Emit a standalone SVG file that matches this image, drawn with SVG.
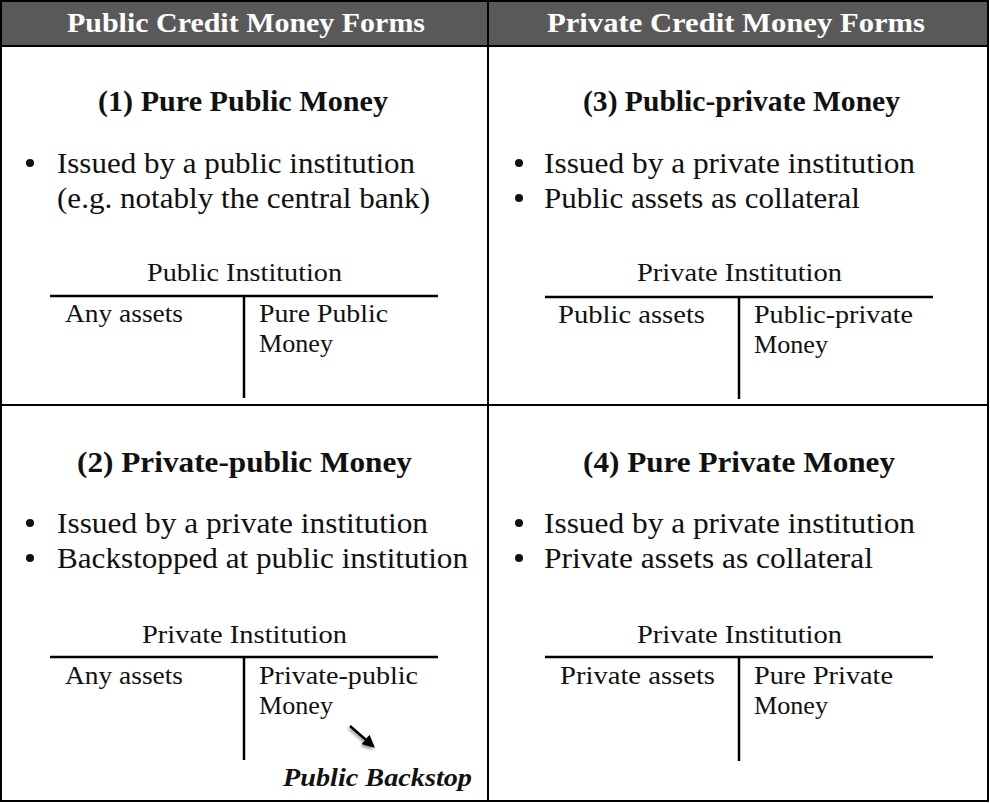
<svg xmlns="http://www.w3.org/2000/svg" width="990" height="803" viewBox="0 0 990 803">
<style>
  text { font-family: "Liberation Serif", "Times New Roman", serif; fill: #111; }
  .hdr { font-weight: bold; font-size: 28px; fill: #ffffff; }
  .ttl { font-weight: bold; font-size: 29px; }
  .bul { font-size: 29px; }
  .acc { font-size: 26px; }
  .bs { font-weight: bold; font-style: italic; font-size: 26px; }
  .grid { stroke: #000; stroke-width: 2; fill: none; }
  .tacc { stroke: #000; stroke-width: 2.5; fill: none; }
  .dot { fill: #111; }
</style>
<defs>
  <marker id="ah" viewBox="0 0 10 10" refX="8" refY="5" markerWidth="5" markerHeight="5" orient="auto" markerUnits="strokeWidth">
    <path d="M0,0 L10,5 L0,10 z" fill="#000"/>
  </marker>
  <filter id="sh" x="-50%" y="-50%" width="200%" height="200%">
    <feDropShadow dx="-1" dy="2" stdDeviation="1.5" flood-color="#000" flood-opacity="0.45"/>
  </filter>
</defs>
<rect x="0" y="0" width="990" height="803" fill="#ffffff"/>

<g id="table-frame">
  <rect x="1" y="1" width="987" height="45" fill="#595959"/>
  <rect class="grid" x="1" y="1" width="987" height="800"/>
  <line class="grid" x1="1" y1="46" x2="988" y2="46"/>
  <line class="grid" x1="1" y1="405" x2="988" y2="405"/>
  <line class="grid" x1="488" y1="1" x2="488" y2="801"/>
</g>

<g id="header-public">
  <text class="hdr" x="67" y="32" textLength="358" lengthAdjust="spacingAndGlyphs">Public Credit Money Forms</text>
</g>
<g id="header-private">
  <text class="hdr" x="547" y="32" textLength="378" lengthAdjust="spacingAndGlyphs">Private Credit Money Forms</text>
</g>

<g id="cell-1">
  <text class="ttl" x="98" y="111" textLength="290" lengthAdjust="spacingAndGlyphs">(1) Pure Public Money</text>
  <circle class="dot" cx="30" cy="163" r="4"/>
  <text class="bul" x="57" y="173" textLength="358" lengthAdjust="spacingAndGlyphs">Issued by a public institution</text>
  <text class="bul" x="57" y="208" textLength="373" lengthAdjust="spacingAndGlyphs">(e.g. notably the central bank)</text>
  <text class="acc" x="147" y="281" textLength="195" lengthAdjust="spacingAndGlyphs">Public Institution</text>
  <line class="tacc" x1="50" y1="296" x2="438" y2="296"/>
  <line class="tacc" x1="244" y1="296" x2="244" y2="398"/>
  <text class="acc" x="65" y="322" textLength="118" lengthAdjust="spacingAndGlyphs">Any assets</text>
  <text class="acc" x="259" y="322" textLength="129" lengthAdjust="spacingAndGlyphs">Pure Public</text>
  <text class="acc" x="259" y="352" textLength="74" lengthAdjust="spacingAndGlyphs">Money</text>
</g>

<g id="cell-3">
  <text class="ttl" x="583" y="111" textLength="317" lengthAdjust="spacingAndGlyphs">(3) Public-private Money</text>
  <circle class="dot" cx="519" cy="163" r="4"/>
  <text class="bul" x="544" y="173" textLength="371" lengthAdjust="spacingAndGlyphs">Issued by a private institution</text>
  <circle class="dot" cx="519" cy="198" r="4"/>
  <text class="bul" x="544" y="208" textLength="316" lengthAdjust="spacingAndGlyphs">Public assets as collateral</text>
  <text class="acc" x="637" y="281" textLength="205" lengthAdjust="spacingAndGlyphs">Private Institution</text>
  <line class="tacc" x1="545" y1="297" x2="933" y2="297"/>
  <line class="tacc" x1="739" y1="297" x2="739" y2="399"/>
  <text class="acc" x="558" y="323" textLength="147" lengthAdjust="spacingAndGlyphs">Public assets</text>
  <text class="acc" x="754" y="323" textLength="159" lengthAdjust="spacingAndGlyphs">Public-private</text>
  <text class="acc" x="754" y="353" textLength="74" lengthAdjust="spacingAndGlyphs">Money</text>
</g>

<g id="cell-2">
  <text class="ttl" x="77" y="472" textLength="335" lengthAdjust="spacingAndGlyphs">(2) Private-public Money</text>
  <circle class="dot" cx="30" cy="523" r="4"/>
  <text class="bul" x="57" y="533" textLength="371" lengthAdjust="spacingAndGlyphs">Issued by a private institution</text>
  <circle class="dot" cx="30" cy="558" r="4"/>
  <text class="bul" x="57" y="568" textLength="411" lengthAdjust="spacingAndGlyphs">Backstopped at public institution</text>
  <text class="acc" x="142" y="643" textLength="205" lengthAdjust="spacingAndGlyphs">Private Institution</text>
  <line class="tacc" x1="50" y1="657" x2="438" y2="657"/>
  <line class="tacc" x1="244" y1="657" x2="244" y2="760"/>
  <text class="acc" x="65" y="684" textLength="118" lengthAdjust="spacingAndGlyphs">Any assets</text>
  <text class="acc" x="259" y="684" textLength="159" lengthAdjust="spacingAndGlyphs">Private-public</text>
  <text class="acc" x="259" y="714" textLength="74" lengthAdjust="spacingAndGlyphs">Money</text>
  <text class="bs" x="283" y="786" textLength="189" lengthAdjust="spacingAndGlyphs">Public Backstop</text>
</g>

<g id="cell-4">
  <text class="ttl" x="583" y="472" textLength="312" lengthAdjust="spacingAndGlyphs">(4) Pure Private Money</text>
  <circle class="dot" cx="519" cy="523" r="4"/>
  <text class="bul" x="544" y="533" textLength="371" lengthAdjust="spacingAndGlyphs">Issued by a private institution</text>
  <circle class="dot" cx="519" cy="558" r="4"/>
  <text class="bul" x="544" y="568" textLength="329" lengthAdjust="spacingAndGlyphs">Private assets as collateral</text>
  <text class="acc" x="637" y="643" textLength="205" lengthAdjust="spacingAndGlyphs">Private Institution</text>
  <line class="tacc" x1="545" y1="657" x2="933" y2="657"/>
  <line class="tacc" x1="739" y1="657" x2="739" y2="761"/>
  <text class="acc" x="560" y="684" textLength="155" lengthAdjust="spacingAndGlyphs">Private assets</text>
  <text class="acc" x="754" y="684" textLength="139" lengthAdjust="spacingAndGlyphs">Pure Private</text>
  <text class="acc" x="754" y="714" textLength="74" lengthAdjust="spacingAndGlyphs">Money</text>
</g>

<g id="connectors">
  <line x1="350" y1="726" x2="373" y2="746" stroke="#000" stroke-width="2.5" marker-end="url(#ah)" filter="url(#sh)"/>
</g>
</svg>
